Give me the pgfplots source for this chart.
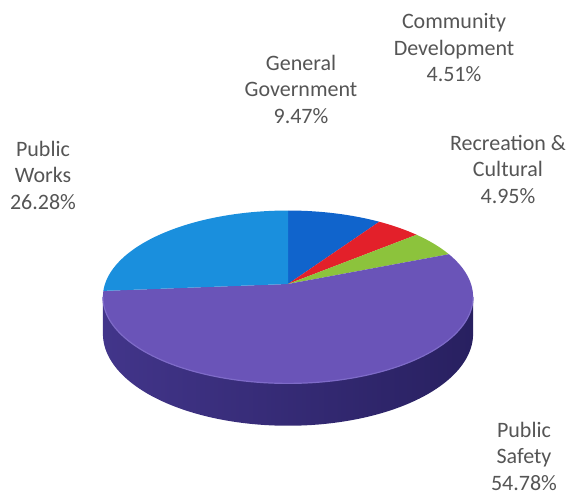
\documentclass[border=0pt]{standalone}
\usepackage{pgfplots}
\pgfplotsset{compat=1.18}
\usepackage{fontspec}
\setmainfont{Carlito}
\definecolor{pwc}{HTML}{1A8FDD}
\definecolor{ggc}{HTML}{1064CC}
\definecolor{cdc}{HTML}{E3202A}
\definecolor{rcc}{HTML}{8CC33C}
\definecolor{psc}{HTML}{6A54B8}
\definecolor{sideL}{HTML}{42358A}
\definecolor{sideM}{HTML}{352977}
\definecolor{sideR}{HTML}{282060}
\definecolor{rimc}{HTML}{7E6BC8}
\definecolor{txt}{HTML}{555555}
\tikzset{lbl/.style={font=\fontsize{22}{26.5}\selectfont, text=txt, align=center, inner sep=0pt}}
% shares (percent)
\def\vGG{9.47}\def\vCD{4.51}\def\vRC{4.95}\def\vPS{54.78}\def\vPW{26.28}
% geometry of the drawn pie (picture units = pixels)
\def\cx{288}\def\cy{211}\def\R{183}\def\Ry{84.5}\def\pa{0.15}\def\hh{36}
\begin{document}
\begin{tikzpicture}[declare function={
  px(\t)=\cx+\R*cos(\t)/(1+\pa*sin(\t));
  py(\t)=\cy+\Ry*sin(\t)/(1+\pa*sin(\t));
  pyb(\t)=\cy+\Ry*sin(\t)/(1+\pa*sin(\t))-\hh/(1+\pa*sin(\t));}]
\pgfmathsetmacro\tot{\vGG+\vCD+\vRC+\vPS+\vPW}
\pgfmathsetmacro\k{360/\tot}
\pgfmathsetmacro\aA{90}
\pgfmathsetmacro\aB{\aA-\k*\vGG}
\pgfmathsetmacro\aC{\aB-\k*\vCD}
\pgfmathsetmacro\aD{\aC-\k*\vRC}
\pgfmathsetmacro\aE{\aD-\k*\vPS}
\pgfmathsetmacro\aF{\aE-\k*\vPW}
\pgfmathsetmacro\tL{180+asin(\pa)}
\pgfmathsetmacro\tR{360-asin(\pa)}
\pgfmathsetmacro\xL{\cx+\R*cos(\tL)/(1+\pa*sin(\tL))}
\pgfmathsetmacro\yL{\cy+\Ry*sin(\tL)/(1+\pa*sin(\tL))}
\pgfmathsetmacro\xR{\cx+\R*cos(\tR)/(1+\pa*sin(\tR))}
\pgfmathsetmacro\yR{\cy+\Ry*sin(\tR)/(1+\pa*sin(\tR))}
\begin{axis}[
  scale only axis, width=570pt, height=495pt,
  xmin=0, xmax=570, ymin=0, ymax=495,
  hide axis, clip=false,
]
% side of the pie
\addplot[draw=none, left color=sideL, middle color=sideM, right color=sideR,
  domain=\tL:\tR, samples=90] ({px(x)},{pyb(x)}) -- (axis cs:\xR,\yR) -- (axis cs:\xL,\yL) -- cycle;
% top face slices
\addplot[fill=ggc, draw=none, domain=\aB:\aA, samples=30] ({px(x)},{py(x)}) -- (axis cs:\cx,\cy) -- cycle;
\addplot[fill=cdc, draw=none, domain=\aC:\aB, samples=20] ({px(x)},{py(x)}) -- (axis cs:\cx,\cy) -- cycle;
\addplot[fill=rcc, draw=none, domain=\aD:\aC, samples=20] ({px(x)},{py(x)}) -- (axis cs:\cx,\cy) -- cycle;
\addplot[fill=psc, draw=none, domain=\aE:\aD, samples=140] ({px(x)},{py(x)}) -- (axis cs:\cx,\cy) -- cycle;
\addplot[fill=pwc, draw=none, domain=\aF:\aE, samples=70] ({px(x)},{py(x)}) -- (axis cs:\cx,\cy) -- cycle;
% light rim along the front edge
\addplot[draw=rimc, line width=1.2pt, domain=\tL:\tR, samples=90] ({px(x)},{py(x)});
% labels
\node[lbl] at (axis cs:301,406) {General\\Government\\9.47\%};
\node[lbl] at (axis cs:454,447) {Community\\Development\\4.51\%};
\node[lbl] at (axis cs:508,326) {Recreation \&\\Cultural\\4.95\%};
\node[lbl] at (axis cs:43,320) {Public\\Works\\26.28\%};
\node[lbl] at (axis cs:524,39) {Public\\Safety\\54.78\%};
\end{axis}
\pgfresetboundingbox
\useasboundingbox (current axis.south west) rectangle (current axis.north east);
\end{tikzpicture}
\end{document}
